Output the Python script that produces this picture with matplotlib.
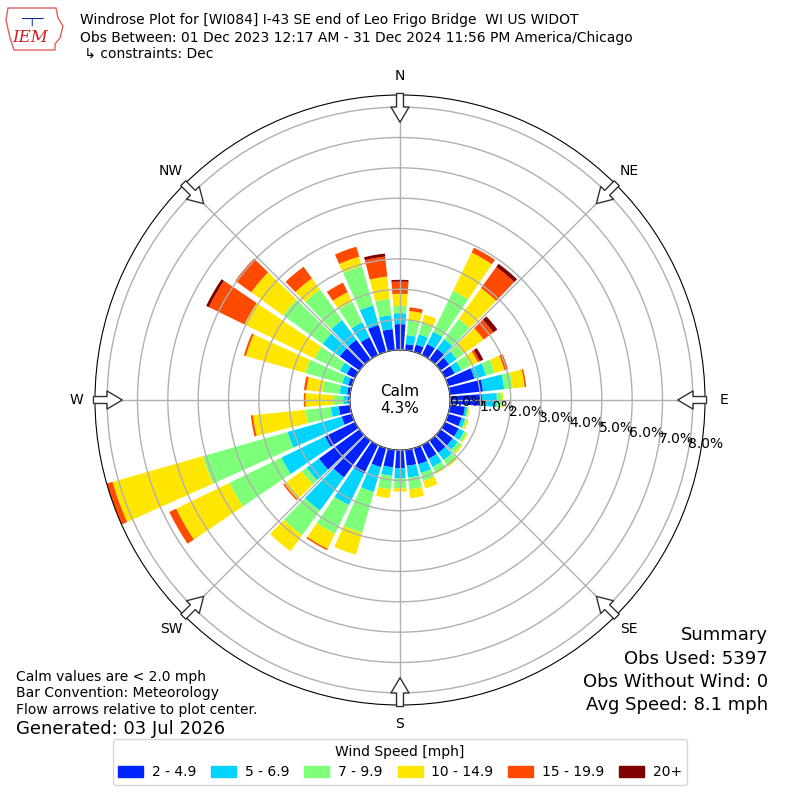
import numpy as np
import matplotlib
matplotlib.use("Agg")
import matplotlib.pyplot as plt
from matplotlib.patches import Patch, Polygon

# direction bins (deg, meteorological: wind from)
directions = np.arange(0, 360, 10)

# percent of obs per speed bin, one value per direction
spd_2_5 = [0.85, 0.20, 0.25, 0.40, 0.43, 0.35, 0.35, 0.90, 1.10, 1.05,
           0.50, 0.46, 0.50, 0.50, 0.50, 0.50, 0.55, 0.53, 0.60, 0.58,
           0.65, 1.05, 1.50, 1.65, 1.10, 0.35, 0.38, 0.06, 0.10, 0.13,
           0.30, 0.80, 0.80, 0.65, 0.92, 0.70]
spd_5_7 = [0.36, 0.30, 0.35, 0.45, 0.40, 0.30, 0.25, 0.40, 0.70, 0.49,
           0.08, 0.12, 0.20, 0.20, 0.30, 0.30, 0.30, 0.39, 0.33, 0.28,
           0.85, 1.15, 1.35, 0.50, 1.60, 1.85, 0.26, 0.16, 0.25, 0.20,
           0.25, 0.70, 0.80, 0.55, 0.67, 0.46]
spd_7_10 = [0.24, 0.50, 0.38, 1.50, 0.82, 0.30, 0.35, 0.30, 0.28, 0.14,
            0.04, 0.06, 0.10, 0.15, 0.20, 0.20, 0.27, 0.39, 0.33, 0.45,
            1.40, 1.05, 1.00, 0.20, 1.90, 2.90, 0.84, 0.33, 0.57, 1.27,
            0.93, 1.60, 1.25, 0.75, 1.35, 0.54]
spd_10_15 = [0.40, 0.30, 0.30, 1.40, 1.25, 0.80, 0.25, 0.33, 0.40, 0.07,
             0.04, 0.06, 0.04, 0.05, 0.06, 0.05, 0.26, 0.29, 0.11, 0.29,
             0.75, 0.55, 0.65, 0.70, 1.95, 3.10, 1.74, 0.92, 0.53, 2.03,
             2.57, 1.30, 0.45, 0.35, 0.32, 0.74]
spd_15_20 = [0.40, 0.12, 0.00, 0.18, 0.86, 0.40, 0.08, 0.12, 0.05, 0.00,
             0.00, 0.00, 0.00, 0.00, 0.00, 0.00, 0.00, 0.00, 0.00, 0.00,
             0.00, 0.05, 0.00, 0.05, 0.25, 0.20, 0.07, 0.05, 0.08, 0.07,
             1.30, 0.65, 0.47, 0.35, 0.34, 0.66]
spd_20p = [0.06, 0.00, 0.00, 0.00, 0.13, 0.16, 0.12, 0.00, 0.00, 0.00,
           0.00, 0.00, 0.00, 0.00, 0.00, 0.00, 0.00, 0.00, 0.00, 0.00,
           0.00, 0.00, 0.00, 0.00, 0.00, 0.00, 0.00, 0.00, 0.00, 0.00,
           0.10, 0.00, 0.00, 0.00, 0.00, 0.10]

speed_labels = ["2 - 4.9", "5 - 6.9", "7 - 9.9", "10 - 14.9", "15 - 19.9", "20+"]
speed_colors = ["#0022ff", "#00d4ff", "#7dff7a", "#ffe600", "#ff4a00", "#800000"]
calm_pct = 4.3

compass = ["N", "NE", "E", "SE", "S", "SW", "W", "NW"]
rticks = [0, 1, 2, 3, 4, 5, 6, 7, 8]

fig = plt.figure(figsize=(8, 8), dpi=100)
ax = fig.add_axes([0.11875, 0.11875, 0.7625, 0.7625], projection="polar")
ax.set_theta_zero_location("N")
ax.set_theta_direction(-1)

theta = np.deg2rad(directions)
bottom = np.zeros(len(directions))
for vals, color, label in zip([spd_2_5, spd_5_7, spd_7_10, spd_10_15, spd_15_20, spd_20p],
                              speed_colors, speed_labels):
    vals = np.array(vals)
    ax.bar(theta, vals, width=np.deg2rad(8.2), bottom=bottom, color=color,
           label=label, linewidth=0, zorder=1)
    bottom += vals

ax.set_ylim(0, 8.4)
ax.set_rorigin(-1.65)
ax.set_axisbelow(False)
ax.grid(True, color="#b0b0b0", linewidth=1, zorder=3)

ax.set_yticks(rticks)
ax.set_yticklabels(["%.1f%%" % t for t in rticks], fontsize=10)
ax.set_rlabel_position(100)

ax.set_xticks(np.deg2rad(np.arange(0, 360, 45)))
ax.set_xticklabels(compass, fontsize=10)
ax.tick_params(axis="x", pad=3)

# flow arrows at the 8 compass points
for ang in np.arange(0, 360, 45):
    ax.annotate("", xy=(np.deg2rad(ang), 7.5), xytext=(np.deg2rad(ang), 8.45),
                annotation_clip=False,
                arrowprops=dict(arrowstyle="simple,head_length=1.1,head_width=1.3,tail_width=0.5",
                                mutation_scale=10, fc="white", ec="#333333", lw=1,
                                shrinkA=0, shrinkB=0), zorder=5)

fig.text(0.5, 0.5, "Calm\n%.1f%%" % calm_pct, ha="center", va="center", fontsize=11)

# header
fig.text(0.1, 1 - 20 / 800, "Windrose Plot for [WI084] I-43 SE end of Leo Frigo Bridge  WI US WIDOT",
         fontsize=10, va="center")
fig.text(0.1, 1 - 38 / 800, "Obs Between: 01 Dec 2023 12:17 AM - 31 Dec 2024 11:56 PM America/Chicago",
         fontsize=10, va="center")
fig.text(0.1, 1 - 54 / 800, " \u21b3 constraints: Dec", fontsize=10, va="center")

# logo
state = [(8, 8), (56, 8), (58, 18), (63, 26), (60, 38), (55, 44), (55, 50), (14, 50), (10, 38), (6, 20)]
fig.add_artist(Polygon([(x / 800, 1 - y / 800) for x, y in state], closed=True,
                       fill=False, ec="#e06060", lw=1))
fig.text(30 / 800, 1 - 38 / 800, "IEM", color="#d02020", fontsize=12, style="italic",
         family="DejaVu Serif", ha="center", va="center")
fig.text(32 / 800, 1 - 20 / 800, "\u2500\u252c\u2500", color="#1030a0", fontsize=9,
         ha="center", va="center")

# footer notes
fig.text(16 / 800, 1 - 677 / 800, "Calm values are < 2.0 mph", fontsize=10, va="center")
fig.text(16 / 800, 1 - 693 / 800, "Bar Convention: Meteorology", fontsize=10, va="center")
fig.text(16 / 800, 1 - 710 / 800, "Flow arrows relative to plot center.", fontsize=10, va="center")
fig.text(16 / 800, 1 - 729 / 800, "Generated: 03 Jul 2026", fontsize=13, va="center")

fig.text(768 / 800, 1 - 635 / 800, "Summary", fontsize=13, ha="right", va="center")
fig.text(768 / 800, 1 - 659 / 800, "Obs Used: 5397", fontsize=13, ha="right", va="center")
fig.text(768 / 800, 1 - 682 / 800, "Obs Without Wind: 0", fontsize=13, ha="right", va="center")
fig.text(768 / 800, 1 - 705 / 800, "Avg Speed: 8.1 mph", fontsize=13, ha="right", va="center")

handles = [Patch(color=c) for c in speed_colors]
fig.legend(handles, speed_labels, loc="lower center", bbox_to_anchor=(0.5, 0.01), ncol=6,
           title="Wind Speed [mph]", fontsize=10, title_fontsize=10, frameon=True,
           handlelength=1.8, handleheight=0.8, handletextpad=0.6, columnspacing=1.1,
           borderpad=0.4, edgecolor="#cccccc")

fig.savefig("out.png", dpi=100)
